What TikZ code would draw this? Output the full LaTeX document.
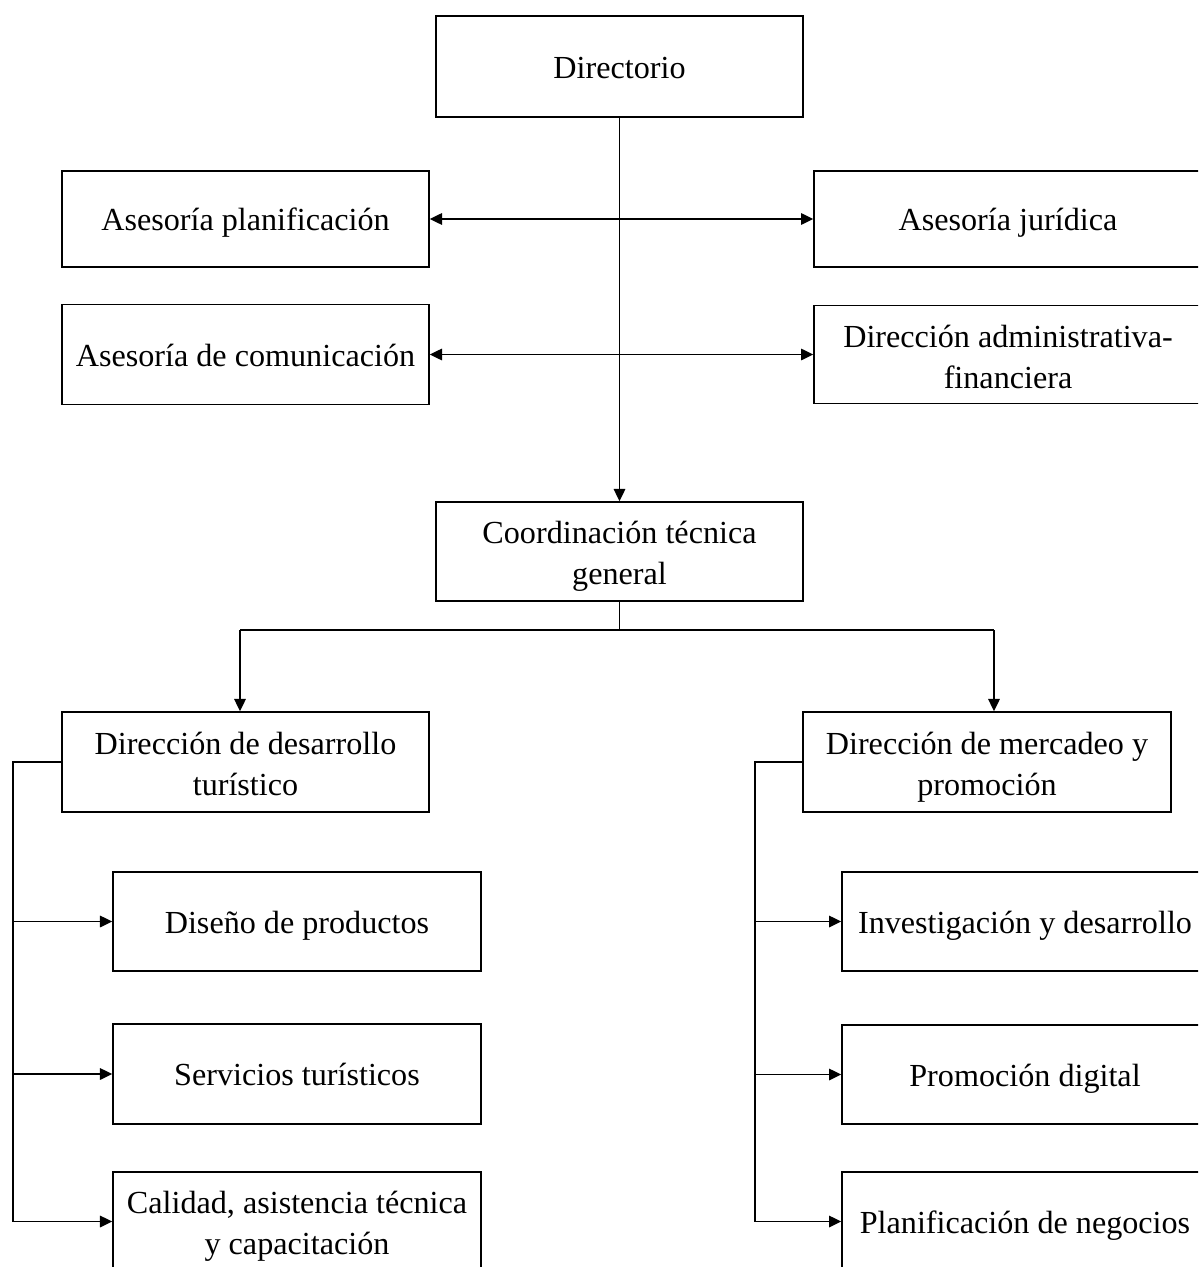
\documentclass[tikz,border=0pt]{standalone}
\usepackage{fontspec}
\setmainfont{Liberation Serif}
\usetikzlibrary{arrows.meta}
\newcommand{\mystrA}{\rule[-4.4pt]{0pt}{22pt}}
\newcommand{\mystrB}{\rule[-3.5pt]{0pt}{22pt}}
\tikzset{
  orgbox/.style={draw, line width=0.85pt, inner sep=0pt, align=center,
    font=\fontsize{18.3}{23.3}\selectfont, minimum width=7.34cm, minimum height=2cm},
  conn/.style={line width=1.1pt},
  arr/.style={conn, -{Triangle[length=7pt,width=6.5pt]}},
  darr/.style={conn, {Triangle[length=7pt,width=6.5pt]}-{Triangle[length=7pt,width=6.5pt]}}
}
\begin{document}
\begin{tikzpicture}[x=0.02cm,y=-0.02cm]
\useasboundingbox (0,0) rectangle (1198,1267);
\clip (0,0) rectangle (1198,1267);
\fill[white] (0,0) rectangle (1198,1267);
% top level
\node[orgbox, minimum height=2.02cm] (dir) at (619.5,66.5) {\mystrA Directorio};
\node[orgbox, minimum height=1.92cm] (ap) at (245.5,219) {\mystrA Asesoría planificación};
\node[orgbox, minimum width=7.76cm, minimum height=1.92cm] (aj) at (1008,219) {\mystrA Asesoría jurídica};
\node[orgbox] (ac) at (245.5,354.5) {\mystrA Asesoría de comunicación};
\node[orgbox, minimum width=7.76cm, minimum height=1.96cm] (da) at (1008,354.5) {\mystrB Dirección administrativa-\\\mystrB financiera};
\node[orgbox, minimum height=1.98cm] (ctg) at (619.5,551.5) {\mystrB Coordinación técnica\\\mystrB general};
% second level
\node[orgbox] (ddt) at (245.5,762) {\mystrB Dirección de desarrollo\\\mystrB turístico};
\node[orgbox, minimum width=7.36cm] (dmp) at (987,762) {\mystrB Dirección de mercadeo y\\\mystrB promoción};
% left branch
\node[orgbox, minimum width=7.36cm, minimum height=1.98cm] (dp) at (297,921.5) {\mystrA Diseño de productos};
\node[orgbox, minimum width=7.36cm] (st) at (297,1074) {\mystrA Servicios turísticos};
\node[orgbox, minimum width=7.36cm, minimum height=1.98cm] (cal) at (297,1221.5) {\mystrB Calidad, asistencia técnica\\\mystrB y capacitación};
% right branch
\node[orgbox, minimum width=7.32cm, minimum height=1.98cm] (iyd) at (1025,921.5) {\mystrA Investigación y desarrollo};
\node[orgbox, minimum width=7.32cm, minimum height=1.98cm] (pd) at (1025,1074.5) {\mystrA Promoción digital};
\node[orgbox, minimum width=7.32cm, minimum height=1.98cm] (pn) at (1025,1221.5) {\mystrA Planificación de negocios};
% connectors
\draw[arr] (dir.south) -- (ctg.north);
\draw[darr] (ap.east) -- (aj.west);
\draw[darr] (ac.east) -- (da.west);
\coordinate (bus) at (619.5,630);
\coordinate (bl) at (240,630);
\coordinate (br) at (994,630);
\draw[conn] (ctg.south) -- (bus);
\draw[conn] (bl) -- (br);
\draw[arr] (bl) -- (bl |- ddt.north);
\draw[arr] (br) -- (br |- dmp.north);
\coordinate (lbx) at (13,0);
\coordinate (rbx) at (755,0);
\draw[arr] (ddt.west) -- (lbx |- ddt.west) |- (cal.west);
\draw[arr] (lbx |- dp.west) -- (dp.west);
\draw[arr] (lbx |- st.west) -- (st.west);
\draw[arr] (dmp.west) -- (rbx |- dmp.west) |- (pn.west);
\draw[arr] (rbx |- iyd.west) -- (iyd.west);
\draw[arr] (rbx |- pd.west) -- (pd.west);
\end{tikzpicture}
\end{document}
